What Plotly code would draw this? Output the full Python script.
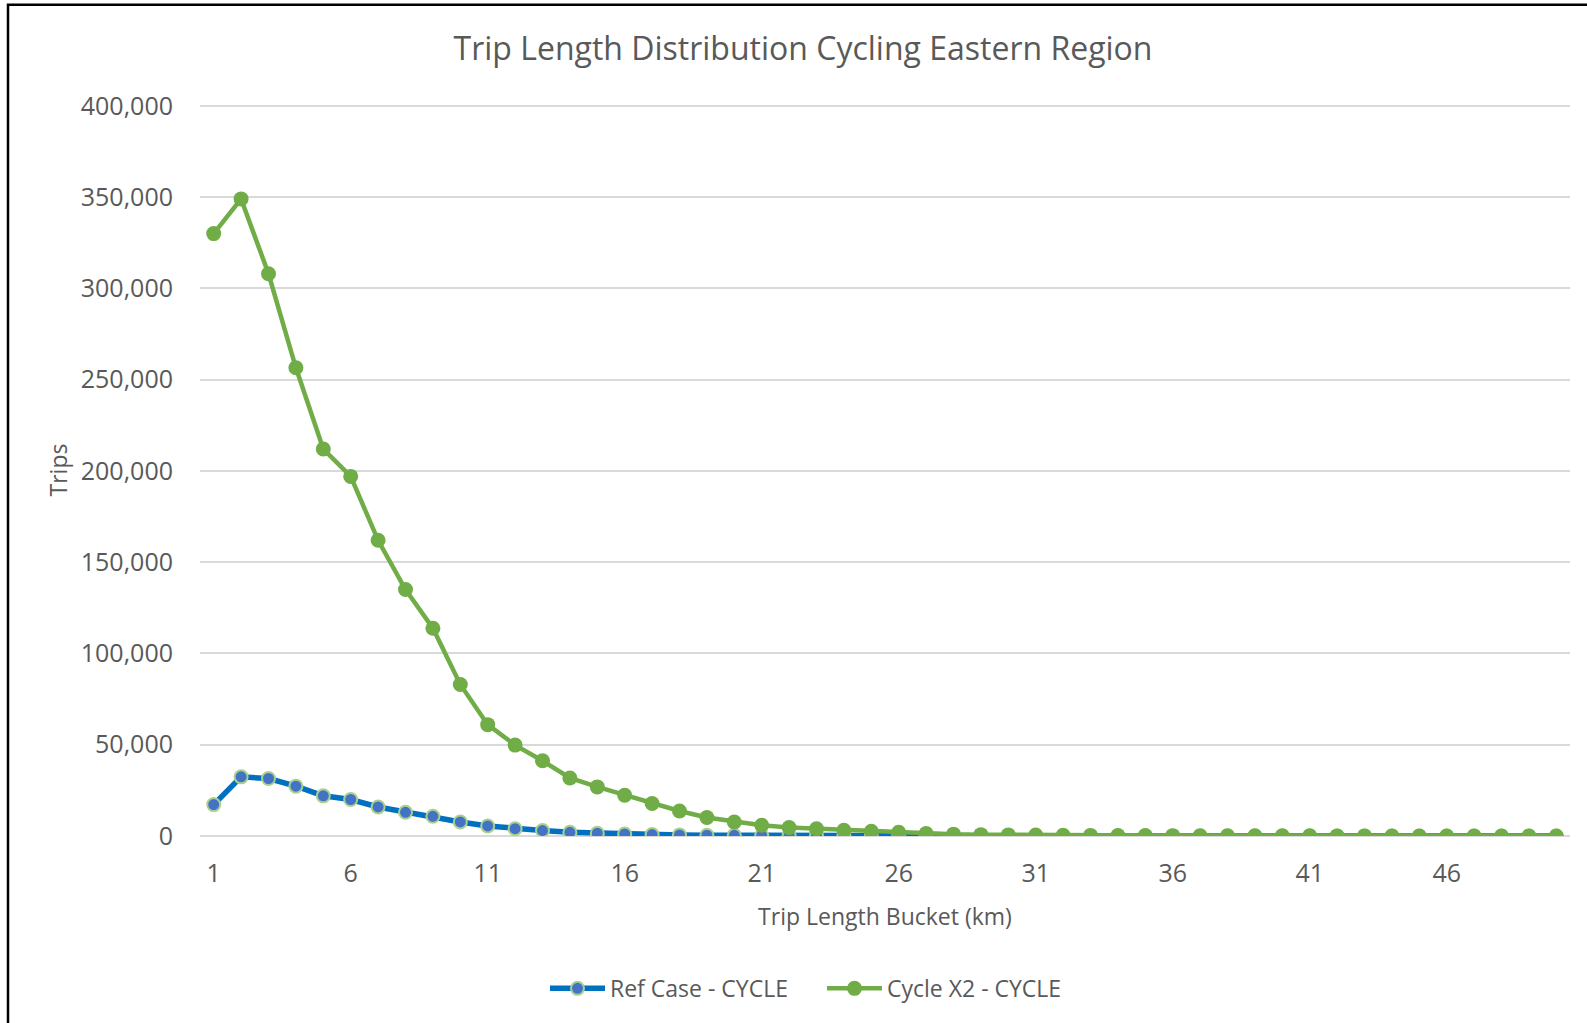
import plotly.graph_objects as go

buckets = list(range(1, 51))
ref_case = [17200, 32400, 31500, 27300, 22000, 20000, 15900, 13000, 10800, 7700,
            5500, 4000, 3000, 2000, 1500, 1100, 800, 600, 450, 350,
            280, 220, 170, 130, 100, 80, 60, 50, 40, 30,
            25, 20, 18, 15, 12, 10, 8, 7, 6, 5,
            4, 4, 3, 3, 2, 2, 2, 1, 1, 1]
cycle_x2 = [330000, 349000, 308000, 256500, 212000, 197000, 162000, 135000, 113800, 83000,
            61000, 49800, 41200, 31800, 26900, 22300, 17800, 13700, 10100, 7700,
            5900, 4600, 4000, 3100, 2600, 2000, 1400, 1000, 750, 600,
            480, 400, 330, 270, 220, 180, 150, 120, 100, 85,
            70, 60, 50, 40, 35, 30, 25, 20, 17, 14]
x_ticks = [1, 6, 11, 16, 21, 26, 31, 36, 41, 46]
y_ticks = [0, 50000, 100000, 150000, 200000, 250000, 300000, 350000, 400000]

FONT = "Open Sans"
GREY = "#595959"

fig = go.Figure()
fig.add_trace(go.Scatter(
    x=buckets, y=ref_case, name="Ref Case - CYCLE", mode="lines+markers",
    line=dict(color="#0070C0", width=5.5),
    marker=dict(size=13, color="#4472C4", line=dict(color="#A9D18E", width=2)),
))
fig.add_trace(go.Scatter(
    x=buckets, y=cycle_x2, name="Cycle X2 - CYCLE", mode="lines+markers",
    line=dict(color="#70AD47", width=4.5),
    marker=dict(size=15, color="#70AD47", line=dict(color="#70AD47", width=0)),
))

Y_TOP = 401000
L, R, B = 200, 17, 187.3
T = 106 - 729.7 * (Y_TOP - 400000) / 400000
W, H = 1587, 1023
pw, ph = W - L - R, H - T - B

def px(xp):
    return (xp - L) / pw

def py(yp):
    return (H - B - yp) / ph

fig.update_layout(
    width=W, height=H,
    margin=dict(l=L, r=R, t=T, b=B),
    paper_bgcolor="white", plot_bgcolor="white",
    font=dict(family=FONT, color=GREY),
    title=dict(text="Trip Length Distribution Cycling Eastern Region",
               xref="container", yref="container",
               x=803 / W, y=1 - 49 / H, xanchor="center", yanchor="middle",
               font=dict(size=32, color=GREY, family=FONT)),
    xaxis=dict(range=[0.5, 50.5], tickvals=x_ticks, ticktext=[str(v) for v in x_ticks],
               showgrid=False, zeroline=False, showline=False, ticks="",
               tickfont=dict(size=25, color=GREY), ticklabelstandoff=20,
               title=dict(text="Trip Length Bucket (km)", font=dict(size=23, color=GREY), standoff=20)),
    yaxis=dict(range=[0, Y_TOP], tickvals=y_ticks,
               ticktext=[f"{v:,}" for v in y_ticks],
               showgrid=True, gridcolor="#D9D9D9", gridwidth=1.5,
               zeroline=True, zerolinecolor="#D9D9D9", zerolinewidth=1.5,
               showline=False, ticks="", tickfont=dict(size=25, color=GREY),
               ticklabelstandoff=26,
               title=dict(text="Trips", font=dict(size=23, color=GREY), standoff=6)),
    legend=dict(orientation="h", x=px(545), y=py(988), xanchor="left", yanchor="middle",
                font=dict(size=23, color=GREY), itemwidth=55, traceorder="normal",
                entrywidth=207, entrywidthmode="pixels"),
    showlegend=True,
)

fig.add_shape(type="rect", xref="paper", yref="paper",
              x0=px(8), x1=px(1600), y0=py(1040), y1=py(5),
              line=dict(color="black", width=2.5), fillcolor="rgba(0,0,0,0)", layer="above")

fig.write_html("out.html", config={"displayModeBar": False},
               post_script="document.body.style.margin='0';document.body.style.overflow='hidden';")
